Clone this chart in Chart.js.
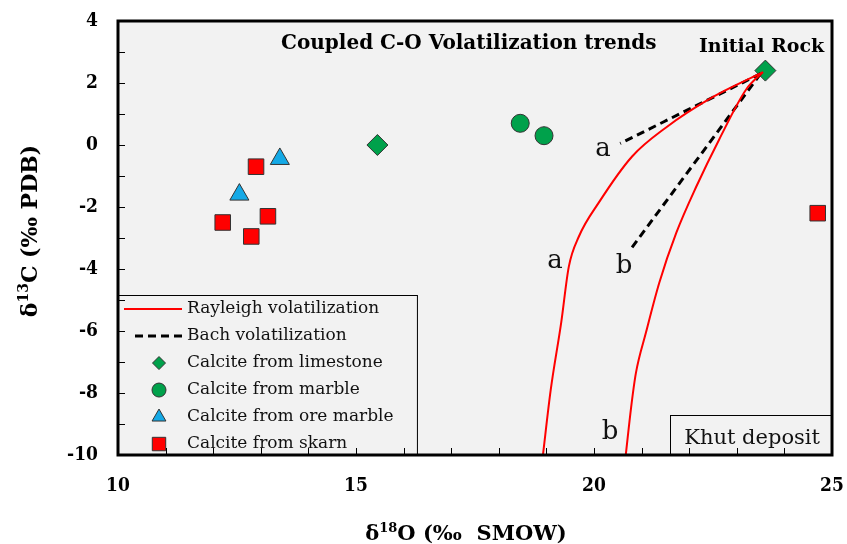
<!DOCTYPE html>
<html>
<head>
<meta charset="utf-8">
<script src="https://cdn.jsdelivr.net/npm/chart.js@4.4.1/dist/chart.umd.min.js"></script>
<style>
  html, body { margin: 0; background: #fff; }
  #wrap { width: 847px; height: 544px; }
</style>
</head>
<body>
<div id="wrap"><canvas id="isoChart"></canvas></div>
<script>
// axis range and labelled ticks
const xTickLabels = [10, 15, 20, 25];
const yTickLabels = [4, 2, 0, -2, -4, -6, -8, -10];

// volatilization trends (d18O, d13C)
const rayleighA = [
  {x: 23.55, y: 2.35}, {x: 22.5, y: 1.55}, {x: 21.5, y: 0.55}, {x: 20.8, y: -0.37},
  {x: 20.1, y: -1.86}, {x: 19.68, y: -2.96}, {x: 19.47, y: -3.93}, {x: 19.31, y: -5.74},
  {x: 19.09, y: -7.91}, {x: 18.92, y: -10.1}
];
const rayleighB = [
  {x: 23.55, y: 2.35}, {x: 23.2, y: 1.8}, {x: 22.63, y: 0.18}, {x: 22.15, y: -1.34},
  {x: 21.73, y: -2.83}, {x: 21.37, y: -4.45}, {x: 21.09, y: -6.06}, {x: 20.88, y: -7.36},
  {x: 20.78, y: -8.46}, {x: 20.66, y: -10.1}
];
const bachA = [{x: 23.5, y: 2.3}, {x: 20.55, y: 0.05}];
const bachB = [{x: 23.5, y: 2.3}, {x: 20.8, y: -3.3}];

// samples
const limestone = [{x: 23.6, y: 2.4}, {x: 15.45, y: 0.0}];
const marble = [{x: 18.45, y: 0.7}, {x: 18.95, y: 0.3}];
const oreMarble = [{x: 13.4, y: -0.45}, {x: 12.55, y: -1.6}];
const skarn = [
  {x: 12.9, y: -0.7}, {x: 12.2, y: -2.5}, {x: 13.15, y: -2.3},
  {x: 12.8, y: -2.95}, {x: 24.7, y: -2.2}
];

// letters beside the trends: [text, x, y] (baseline)
const curveLabels = [['a', 20.19, -0.35], ['a', 19.18, -3.97], ['b', 20.63, -4.13], ['b', 20.34, -9.48]];

const serif = "'DejaVu Serif', serif";
const serifNarrow = "'DejaVu Serif Condensed', 'DejaVu Serif', serif";

const lineDs = (label, data, color, dash, width, legend) => ({
  label, data, showLine: true, borderColor: color, backgroundColor: color,
  borderWidth: width, borderDash: dash, pointRadius: 0, fill: false,
  cubicInterpolationMode: 'monotone', inLegend: legend
});
const pointDs = (label, data, style, color, r) => ({
  label, data, pointStyle: style, pointRadius: r, pointHoverRadius: r,
  backgroundColor: color, borderColor: '#333', borderWidth: 1, showLine: false, inLegend: true
});

// centred bold text with a superscript part
function richText(ctx, parts, x, y, size) {
  const fontOf = p => 'bold ' + (p.sup ? Math.round(size * 0.62) : size) + 'px ' + serif;
  let w = 0;
  parts.forEach(p => { ctx.font = fontOf(p); w += ctx.measureText(p.t).width; });
  let cx = x - w / 2;
  parts.forEach(p => {
    ctx.font = fontOf(p);
    ctx.fillText(p.t, cx, p.sup ? y - size * 0.4 : y);
    cx += ctx.measureText(p.t).width;
  });
}

// keep tick labels from pushing the plot area in
const noScalePadding = s => { s.paddingTop = 0; s.paddingBottom = 0; s.paddingLeft = 0; s.paddingRight = 0; };

const decor = {
  id: 'decor',
  beforeDatasetsDraw(chart) {
    const {ctx, chartArea: a} = chart;
    ctx.save();
    ctx.fillStyle = '#f2f2f2';
    ctx.fillRect(a.left, a.top, a.right - a.left, a.bottom - a.top);
    ctx.restore();
  },
  afterDatasetsDraw(chart) {
    const {ctx, chartArea: a, scales: {x, y}} = chart;
    ctx.save();

    // legend box
    const lr = x.getPixelForValue(16.28), lt = y.getPixelForValue(-4.84);
    ctx.fillStyle = '#f2f2f2';
    ctx.fillRect(a.left, lt, lr - a.left, a.bottom - lt);
    ctx.strokeStyle = '#000';
    ctx.lineWidth = 1;
    ctx.strokeRect(a.left + 0.5, Math.round(lt) + 0.5, lr - a.left, a.bottom - lt);
    let row = lt + 14;
    ctx.textBaseline = 'middle';
    ctx.textAlign = 'left';
    chart.data.datasets.forEach(ds => {
      if (!ds.inLegend) return;
      ctx.save();
      if (ds.showLine) {
        ctx.strokeStyle = ds.borderColor;
        ctx.lineWidth = ds.borderWidth;
        ctx.setLineDash(ds.borderDash || []);
        ctx.beginPath();
        ctx.moveTo(a.left + (ds.borderDash.length ? 17 : 6), row);
        ctx.lineTo(a.left + 64, row);
        ctx.stroke();
      } else {
        ctx.fillStyle = ds.backgroundColor;
        ctx.strokeStyle = ds.borderColor;
        const r = {rectRot: 6.5, circle: 7, triangle: 8, rect: 9.5}[ds.pointStyle];
        Chart.helpers.drawPoint(ctx, {pointStyle: ds.pointStyle, radius: r, rotation: 0, borderWidth: 1}, a.left + 41, row);
      }
      ctx.restore();
      ctx.fillStyle = '#111';
      ctx.font = '17px ' + serif;
      ctx.fillText(ds.label, a.left + 69, row);
      row += 27;
    });

    // deposit box
    const kl = x.getPixelForValue(21.6), kt = y.getPixelForValue(-8.71);
    ctx.fillStyle = '#f2f2f2';
    ctx.fillRect(kl, kt, a.right - kl, a.bottom - kt);
    ctx.strokeRect(Math.round(kl) + 0.5, Math.round(kt) + 0.5, a.right - kl, a.bottom - kt);
    ctx.fillStyle = '#111';
    ctx.textAlign = 'center';
    ctx.textBaseline = 'alphabetic';
    ctx.font = '21px ' + serif;
    ctx.fillText('Khut deposit', (kl + a.right) / 2 + 1, y.getPixelForValue(-9.65));

    // curve letters
    ctx.font = '26px ' + serif;
    curveLabels.forEach(([t, vx, vy]) => ctx.fillText(t, x.getPixelForValue(vx), y.getPixelForValue(vy)));

    // titles in plot
    ctx.fillStyle = '#000';
    ctx.textBaseline = 'middle';
    ctx.font = 'bold 20px ' + serif;
    ctx.fillText('Coupled C-O Volatilization trends', x.getPixelForValue(17.37), y.getPixelForValue(3.28));
    ctx.font = 'bold 19px ' + serif;
    ctx.fillText('Initial Rock', x.getPixelForValue(23.52), y.getPixelForValue(3.16));

    // inward minor ticks
    ctx.strokeStyle = '#000';
    ctx.lineWidth = 1;
    ctx.beginPath();
    for (let v = -9; v < 4; v++) {
      const py = Math.round(y.getPixelForValue(v)) + 0.5;
      ctx.moveTo(a.left, py); ctx.lineTo(a.left + 7, py);
    }
    for (let v = 11; v < 25; v++) {
      const px = Math.round(x.getPixelForValue(v)) + 0.5;
      ctx.moveTo(px, a.bottom); ctx.lineTo(px, a.bottom - 7);
    }
    ctx.stroke();

    // frame
    ctx.lineWidth = 3;
    ctx.strokeRect(a.left, a.top, a.right - a.left, a.bottom - a.top);

    // axis titles
    ctx.textAlign = 'left';
    ctx.textBaseline = 'alphabetic';
    richText(ctx, [{t: 'δ'}, {t: '18', sup: true}, {t: 'O (‰  SMOW)'}], 466, 540, 21);
    ctx.translate(37, 231);
    ctx.rotate(-Math.PI / 2);
    richText(ctx, [{t: 'δ'}, {t: '13', sup: true}, {t: 'C (‰ PDB)'}], 0, 0, 22);
    ctx.restore();
  }
};

const tickFont = {family: serifNarrow, weight: 'bold', size: 19};

new Chart(document.getElementById('isoChart'), {
  type: 'scatter',
  data: {
    datasets: [
      lineDs('Rayleigh volatilization', rayleighA, '#ff0000', [], 2, true),
      lineDs('Rayleigh b', rayleighB, '#ff0000', [], 2, false),
      lineDs('Bach volatilization', bachA, '#000000', [8, 5], 3, true),
      lineDs('Bach b', bachB, '#000000', [8, 5], 3, false),
      pointDs('Calcite from limestone', limestone, 'rectRot', '#00a14b', 10.5),
      pointDs('Calcite from marble', marble, 'circle', '#00a14b', 9),
      pointDs('Calcite from ore marble', oreMarble, 'triangle', '#14a9e6', 11),
      pointDs('Calcite from skarn', skarn, 'rect', '#ff0000', 11)
    ]
  },
  options: {
    responsive: true,
    maintainAspectRatio: false,
    animation: false,
    layout: {padding: {top: 21, right: 15, left: 0, bottom: 0}},
    plugins: {legend: {display: false}, tooltip: {enabled: false}},
    scales: {
      x: {
        type: 'linear', min: 10, max: 25,
        grid: {display: false, drawTicks: false},
        border: {display: false},
        ticks: {
          stepSize: 1, autoSkip: false, maxRotation: 0, padding: 20, color: '#000', font: tickFont,
          callback: v => xTickLabels.includes(v) ? String(v) : ''
        },
        afterFit: s => { s.height = 89; noScalePadding(s); }
      },
      y: {
        type: 'linear', min: -10, max: 4,
        grid: {display: false, drawTicks: false},
        border: {display: false},
        ticks: {
          stepSize: 1, autoSkip: false, padding: 20, color: '#000', font: tickFont,
          callback: v => yTickLabels.includes(v) ? String(v) : ''
        },
        afterFit: s => { s.width = 118; noScalePadding(s); }
      }
    }
  },
  plugins: [decor]
});
</script>
</body>
</html>
